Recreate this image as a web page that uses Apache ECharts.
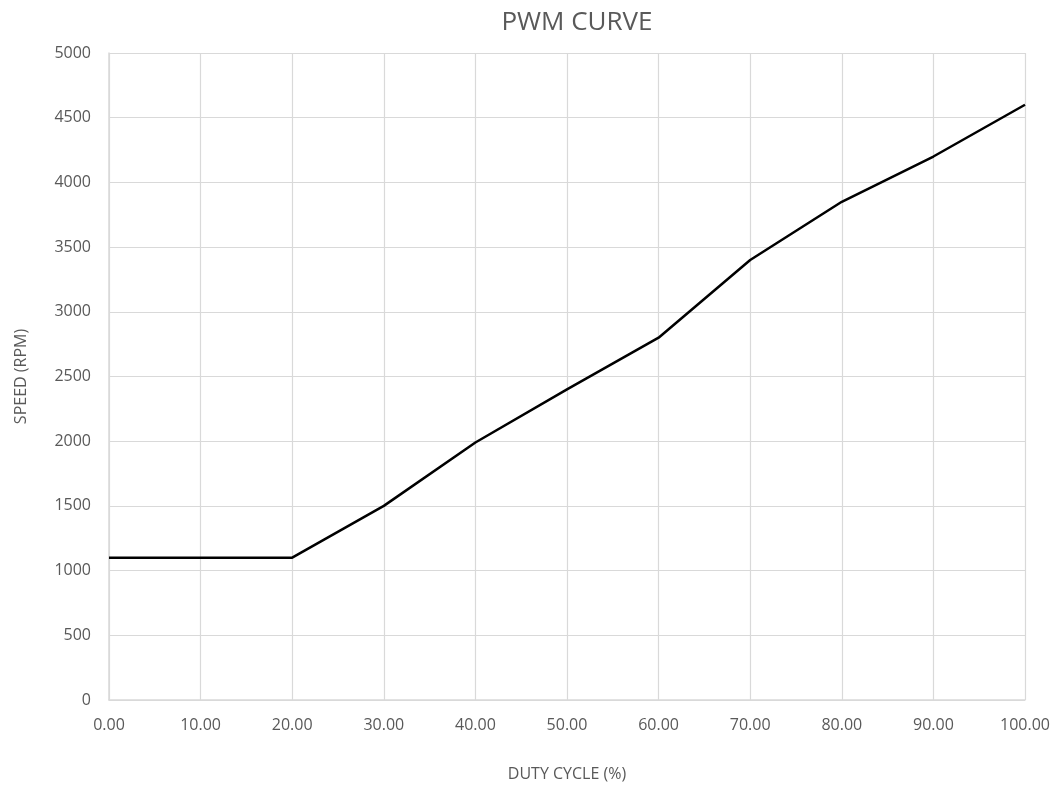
<!DOCTYPE html>
<html>
<head>
<meta charset="utf-8">
<script src="https://cdn.jsdelivr.net/npm/echarts@6/dist/echarts.min.js"></script>
<style>html,body{margin:0;padding:0;background:#fff}#c{width:1055px;height:787px}</style>
</head>
<body>
<div id="c"></div>
<script>
var dutyCycle = [0, 10, 20, 30, 40, 50, 60, 70, 80, 90, 100];
var speedRpm = [1100, 1100, 1100, 1500, 1990, 2400, 2800, 3400, 3850, 4200, 4600];
var titleText = 'PWM CURVE';
var xName = 'DUTY CYCLE (%)';
var yName = 'SPEED (RPM)';

var font = 'Open Sans, Liberation Sans, sans-serif';
var chart = echarts.init(document.getElementById('c'), null, {renderer: 'canvas'});
chart.setOption({
  animation: false,
  backgroundColor: '#ffffff',
  title: {
    text: titleText, left: 572, top: 5, textAlign: 'center',
    textStyle: {fontFamily: font, fontSize: 26, fontWeight: 'normal', color: '#595959'}
  },
  grid: {left: 109, right: 30, top: 53, bottom: 87},
  xAxis: {
    type: 'value', min: 0, max: 100, interval: 10,
    name: xName, nameLocation: 'middle', nameGap: 66,
    nameTextStyle: {fontFamily: font, fontSize: 16, color: '#595959'},
    axisLine: {show: true, lineStyle: {color: '#d9d9d9', width: 1.5}},
    axisTick: {show: false},
    axisLabel: {margin: 17, fontFamily: font, fontSize: 16, color: '#595959',
      formatter: function (v) { return v.toFixed(2); }},
    splitLine: {show: true, lineStyle: {color: '#d9d9d9', width: 1.2}}
  },
  yAxis: {
    type: 'value', min: 0, max: 5000, interval: 500,
    name: yName, nameLocation: 'middle', nameGap: 80, nameRotate: 90,
    nameTextStyle: {fontFamily: font, fontSize: 16, color: '#595959'},
    axisLine: {show: true, lineStyle: {color: '#d9d9d9', width: 1.5}},
    axisTick: {show: false},
    axisLabel: {margin: 18, fontFamily: font, fontSize: 16, color: '#595959',
      formatter: function (v) { return String(v); }},
    splitLine: {show: true, lineStyle: {color: '#d9d9d9', width: 1.2}}
  },
  series: [{
    type: 'line',
    data: dutyCycle.map(function (d, i) { return [d, speedRpm[i]]; }),
    showSymbol: false, symbol: 'none',
    lineStyle: {color: '#000000', width: 2.5},
    itemStyle: {color: '#000000'}
  }]
});
</script>
</body>
</html>
